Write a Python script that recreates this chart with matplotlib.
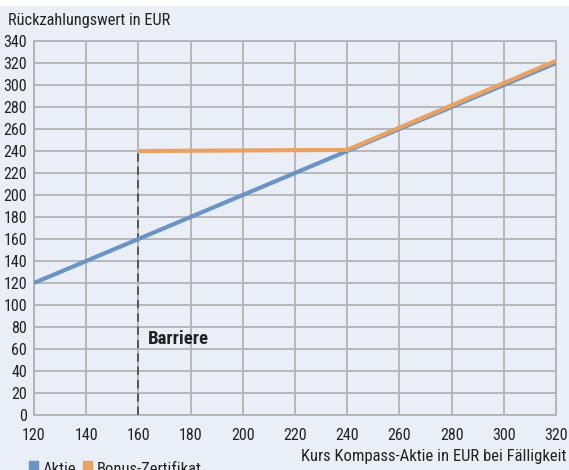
import matplotlib
matplotlib.use("Agg")
import matplotlib.pyplot as plt

fam = ["Roboto Condensed", "DejaVu Sans"]
plt.rcParams['font.family'] = fam

aktie_x = [120, 320]
aktie_y = [120, 320]
bonus_x = [160, 240, 320]
bonus_y = [240, 241, 322]
barriere_x = 160
barriere_top = 240
yticks = list(range(0, 341, 20))
xticks = list(range(120, 321, 20))

BG = "#eaeff7"
TXT = "#222222"
fig = plt.figure(figsize=(5.69, 4.70), dpi=100, facecolor=BG)
fig.patches.append(plt.Rectangle((0, 1 - 5/470), 1, 5/470, transform=fig.transFigure, color="white", zorder=0))
ax = fig.add_axes([34/569, 1 - 415/470, (556-34)/569, (415-41)/470])
ax.set_facecolor(BG)
ax.set_xlim(120, 320)
ax.set_ylim(0, 340)
ax.set_xticks(xticks)
ax.set_yticks(yticks)
ax.grid(True, color="#b3b3b3", lw=1.3)
ax.set_axisbelow(True)
for s in ax.spines.values():
    s.set_color("#b3b3b3")
    s.set_linewidth(1.3)
ax.tick_params(length=0, labelsize=11.5, colors=TXT)
ax.tick_params(axis="x", pad=9.5)
ax.tick_params(axis="y", pad=5)

ax.plot([barriere_x, barriere_x], [0, barriere_top], color="#444444", lw=1.2, ls=(0, (5, 3)), zorder=3)
ax.plot(aktie_x, aktie_y, color="#6a93c6", lw=3, solid_capstyle="butt", zorder=4)
ax.plot(bonus_x, bonus_y, color="#e8a264", lw=3, solid_capstyle="butt", zorder=5)
ax.text(163.5, 69, "Barriere", fontsize=13.5, fontweight="bold", color=TXT, va="center", ha="left")

fig.text(8/569, 1 - 20/470, "Rückzahlungswert in EUR", fontsize=11.8, color=TXT, va="center", ha="left")
fig.text(566/569, 1 - 456/470, "Kurs Kompass-Aktie in EUR bei Fälligkeit", fontsize=12, color=TXT, va="center", ha="right")

# legend
fig.patches.append(plt.Rectangle((29/569, 0), 9/569, 9/470, transform=fig.transFigure, color="#6a93c6"))
fig.text(43/569, 1 - 469/470, "Aktie", fontsize=12, color=TXT, va="center", ha="left")
fig.patches.append(plt.Rectangle((83/569, 0), 9/569, 9/470, transform=fig.transFigure, color="#e8a264"))
fig.text(97/569, 1 - 469/470, "Bonus-Zertifikat", fontsize=12, color=TXT, va="center", ha="left")

fig.savefig("out.png", dpi=100, facecolor=BG)
